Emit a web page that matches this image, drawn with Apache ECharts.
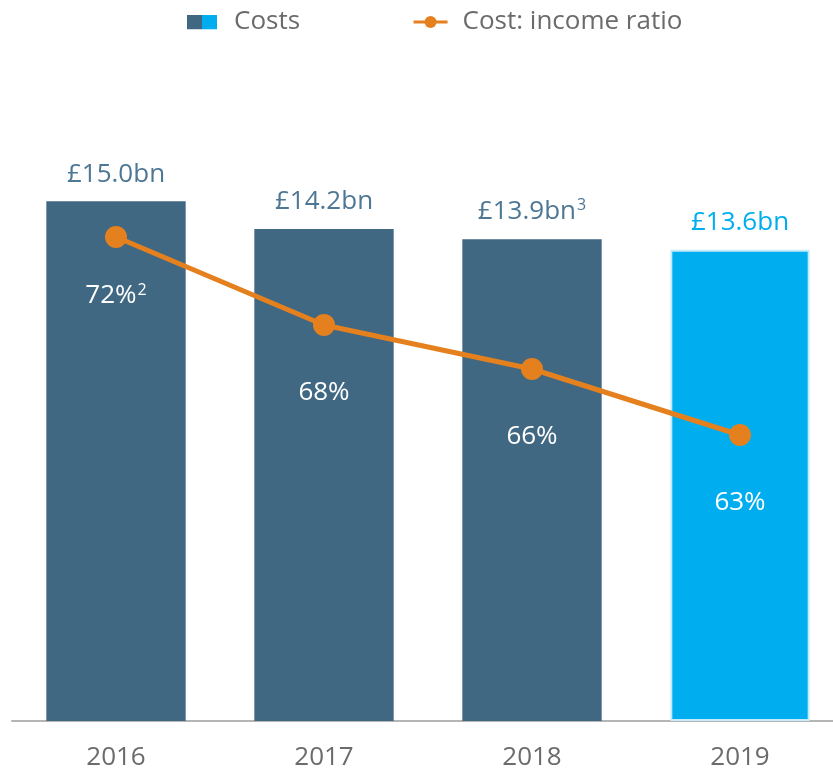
<!DOCTYPE html>
<html>
<head>
<meta charset="utf-8">
<script src="https://cdn.jsdelivr.net/npm/echarts@6/dist/echarts.min.js"></script>
<style>
  html, body { margin: 0; padding: 0; background: #fff; overflow: hidden; }
  #main { width: 844px; height: 773px; }
</style>
</head>
<body>
<div id="main"></div>
<script>
// chart data
var years = ['2016', '2017', '2018', '2019'];
var costs = [15.0, 14.2, 13.9, 13.6];
var ratios = [72, 68, 66, 63];
var costFoot = ['', '', '3', ''];
var ratioFoot = ['2', '', '', ''];

var DARK = '#406882';
var CYAN = '#00aeef';
var ORANGE = '#e5801e';
var GREY = '#6b6b6b';
var FONT = '"Open Sans", "Noto Sans", sans-serif';

var costsIcon = 'image://data:image/svg+xml;utf8,' + encodeURIComponent(
  '<svg xmlns="http://www.w3.org/2000/svg" width="30" height="15">' +
  '<rect x="0" y="0" width="15" height="15" fill="' + DARK + '"/>' +
  '<rect x="15" y="0" width="15" height="15" fill="' + CYAN + '"/></svg>');

var chart = echarts.init(document.getElementById('main'));

var option = {
  animation: false,
  textStyle: { fontFamily: FONT },
  legend: {
    top: 4,
    left: 180,
    itemGap: 112,
    itemWidth: 34,
    itemHeight: 15,
    textStyle: { fontSize: 26, color: GREY, fontFamily: FONT, padding: [0, 0, 0, 10] },
    data: [
      { name: 'Costs', icon: costsIcon },
      { name: 'Cost: income ratio', itemStyle: { color: ORANGE }, lineStyle: { width: 3 } }
    ]
  },
  grid: { left: 12, right: 0, top: 28, bottom: 52 },
  xAxis: {
    type: 'category',
    data: years,
    axisLine: { lineStyle: { color: '#b5b5b5', width: 2 } },
    axisTick: { show: false },
    axisLabel: { fontSize: 26, color: GREY, margin: 24, fontFamily: FONT }
  },
  yAxis: [
    { type: 'value', min: 0, max: 20, show: false, splitLine: { show: false } },
    { type: 'value', min: 50, max: 81.5, show: false, splitLine: { show: false } }
  ],
  series: [
    {
      name: 'Costs',
      type: 'bar',
      barWidth: '67%',
      data: costs.map(function (v, i) {
        var last = i === costs.length - 1;
        return {
          value: v,
          itemStyle: last ? { color: CYAN, borderColor: '#c6ecfb', borderWidth: 2 } : { color: DARK },
          label: { color: last ? CYAN : '#4d7794' }
        };
      }),
      label: {
        show: true,
        position: 'top',
        distance: 14,
        fontSize: 26,
        fontFamily: FONT,
        formatter: function (p) {
          var s = '£' + p.value.toFixed(1) + 'bn';
          return costFoot[p.dataIndex] ? '{m|' + s + '}{s|' + costFoot[p.dataIndex] + '}' : s;
        },
        rich: {
          m: { fontSize: 26, fontFamily: FONT, color: '#4d7794' },
          s: { fontSize: 16, fontFamily: FONT, color: '#4d7794', padding: [0, 0, 12, 1] }
        }
      }
    },
    {
      name: 'Cost: income ratio',
      type: 'line',
      yAxisIndex: 1,
      symbol: 'circle',
      symbolSize: 22,
      color: ORANGE,
      lineStyle: { width: 5, color: ORANGE },
      data: ratios.map(function (v, i) {
        return { value: v, label: { distance: i === 0 ? 34 : 44 } };
      }),
      label: {
        show: true,
        position: 'bottom',
        fontSize: 26,
        fontFamily: FONT,
        color: '#ffffff',
        formatter: function (p) {
          var s = p.value + '%';
          return ratioFoot[p.dataIndex] ? '{m|' + s + '}{s|' + ratioFoot[p.dataIndex] + '}' : s;
        },
        rich: {
          m: { fontSize: 26, fontFamily: FONT, color: '#ffffff' },
          s: { fontSize: 16, fontFamily: FONT, color: '#ffffff', padding: [0, 0, 12, 1] }
        }
      }
    }
  ]
};

chart.setOption(option);
</script>
</body>
</html>
